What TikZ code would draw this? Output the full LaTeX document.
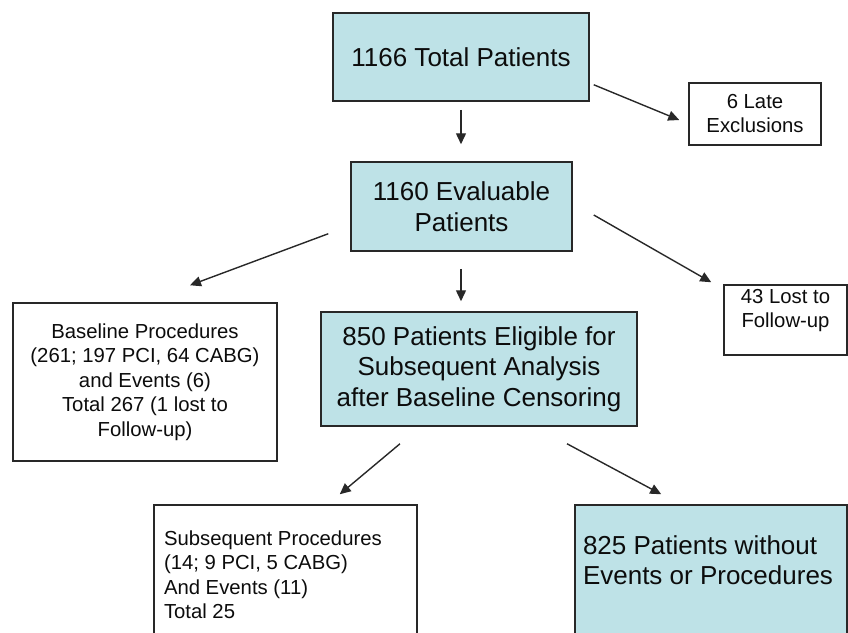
\documentclass[tikz,border=0pt]{standalone}
\usepackage{fontspec}
\setmainfont{Liberation Sans}
\usetikzlibrary{arrows.meta,calc}
\definecolor{boxblue}{RGB}{190,226,231}
\definecolor{edge}{RGB}{40,40,40}
\definecolor{ink}{RGB}{12,12,12}

\begin{document}
\begin{tikzpicture}[x=1pt,y=-1pt,
  box/.style={draw=edge, line width=1.5pt, inner sep=0pt, text=ink, align=center},
  bluebox/.style={box, fill=boxblue},
  plainbox/.style={box, fill=white},
  bigtext/.style={font={\fontsize{26}{30.5}\selectfont}},
  smalltext/.style={font={\fontsize{20.3}{24.5}\selectfont}},
  arr/.style={draw=edge, line width=1.4pt, -{Triangle[length=11pt,width=10pt]}}]

\useasboundingbox (0,0) rectangle (848,632);
\clip (0,0) rectangle (848,632);

% boxes
\node[bluebox, bigtext, minimum width=256pt, minimum height=88pt] (total) at (461,57)
  {1166 Total Patients};
\node[plainbox, smalltext, minimum width=132pt, minimum height=62pt] (late) at (755,114)
  {6 Late\\[-0.5pt]Exclusions};
\node[bluebox, bigtext, minimum width=221pt, minimum height=89pt] (eval) at (461.5,206.5)
  {1160 Evaluable\\Patients};
\node[plainbox, smalltext, minimum width=264pt, minimum height=158pt] (base) at (145,382)
  {Baseline Procedures\\(261; 197 PCI, 64 CABG)\\and Events (6)\\Total 267 (1 lost to\\Follow-up)};
\node[plainbox, smalltext] (lost) at (785.5,320)
  {\parbox[c][70pt][t]{123pt}{\centering\rule{0pt}{18pt}43 Lost to\\Follow-up}};
\node[bluebox, bigtext, minimum width=316pt, minimum height=114pt] (elig) at (479,369)
  {850 Patients Eligible for\\Subsequent Analysis\\after Baseline Censoring};
\node[plainbox, smalltext] (sub) at (285.5,582.5)
  {\parbox[c][155pt][t]{263pt}{\raggedright\leftskip=10pt\rule{0pt}{40pt}Subsequent Procedures\\(14; 9 PCI, 5 CABG)\\And Events (11)\\Total 25}};
\node[bluebox, bigtext] (none) at (711,582.5)
  {\parbox[c][155pt][t]{272pt}{\raggedright\leftskip=8pt\rule{0pt}{49pt}825 Patients without\\Events or Procedures}};

% connectors
\draw[arr] ($(total.south east)+(4,-17)$) -- ($(late.west)+(-9,6)$);
\draw[arr] ($(total.south)+(0,8)$) -- ($(eval.north)+(-0.5,-17)$);
\draw[arr] ($(eval.south west)+(-22,-18)$) -- ($(base.north)+(45,-17)$);
\draw[arr] ($(eval.east)+(21,8.5)$) -- ($(lost.north west)+(-12,-2)$);
\draw[arr] ($(eval.south)+(-0.5,17)$) -- ($(elig.north)+(-18,-10)$);
\draw[arr] ($(elig.south)+(-79,17)$) -- ($(sub.north east)+(-78,-10)$);
\draw[arr] ($(elig.south)+(88,17)$) -- ($(none.north west)+(87,-10)$);
\end{tikzpicture}
\end{document}
